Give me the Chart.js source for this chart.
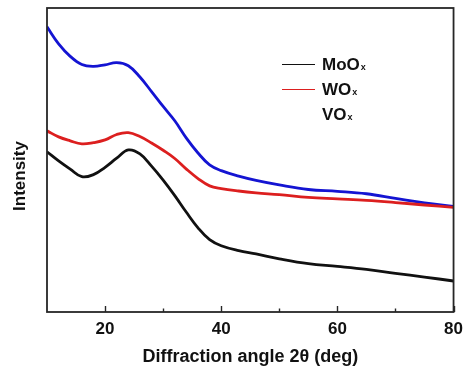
<!DOCTYPE html>
<html>
<head>
<meta charset="utf-8">
<script src="https://cdn.jsdelivr.net/npm/chart.js@4/dist/chart.umd.min.js"></script>
<style>
  html, body { margin: 0; padding: 0; background: #fff; }
  #wrap { width: 470px; height: 372px; }
</style>
</head>
<body>
<div id="wrap"><canvas id="xrd"></canvas></div>
<script>
// 2θ positions (deg) and intensities (a.u.) of the three oxide patterns
const angles = [10, 12, 14, 16, 18, 20, 22, 24, 26, 28, 30, 32, 34, 36, 38, 40, 43, 46, 50, 55, 60, 65, 70, 75, 80];
const moox = [52.7, 49.7, 47.0, 44.5, 45.2, 47.6, 50.6, 53.3, 52.0, 48.0, 43.4, 38.3, 32.8, 27.7, 23.8, 21.8, 20.2, 19.1, 17.5, 15.9, 15.0, 14.0, 12.7, 11.5, 10.2];
const wox = [59.6, 57.6, 56.3, 55.3, 55.7, 56.6, 58.4, 59.0, 57.7, 55.6, 53.2, 50.5, 47.0, 43.9, 41.5, 40.6, 39.8, 39.2, 38.6, 37.7, 37.2, 36.7, 36.0, 35.2, 34.4];
const vox = [93.8, 88.2, 84.1, 81.4, 80.8, 81.3, 82.0, 81.0, 77.3, 72.5, 67.6, 62.9, 57.2, 52.3, 48.4, 46.5, 44.7, 43.3, 41.8, 40.3, 39.7, 38.9, 37.4, 35.9, 34.7];

const seriesNames = ['MoOx', 'WOx', 'VOx'];
const majorTicks = [20, 40, 60, 80];
const minorTicks = [30, 50, 70];

const FONT = "'Liberation Sans', Arial, sans-serif";
const colors = ['#111111', '#dc1f1f', '#1414d2'];
// VOx has no sample line in the key
const keyLines = [true, true, false];

function toPoints(ys) {
  return ys.map((y, i) => ({ x: angles[i], y: y }));
}

// frame, inward ticks, y title and the in-plot key
const decorations = {
  id: 'decorations',
  afterDatasetsDraw(chart) {
    const { ctx, chartArea: a } = chart;
    const xs = chart.scales.x;
    ctx.save();

    ctx.strokeStyle = '#262626';
    ctx.lineWidth = 1.8;
    ctx.strokeRect(a.left, a.top, a.right - a.left, a.bottom - a.top);

    ctx.lineWidth = 1.4;
    majorTicks.forEach(v => {
      const px = Math.round(xs.getPixelForValue(v)) + 0.5;
      ctx.beginPath(); ctx.moveTo(px, a.bottom); ctx.lineTo(px, a.bottom - 6); ctx.stroke();
    });
    minorTicks.forEach(v => {
      const px = Math.round(xs.getPixelForValue(v)) + 0.5;
      ctx.beginPath(); ctx.moveTo(px, a.bottom); ctx.lineTo(px, a.bottom - 3.5); ctx.stroke();
    });

    // rotated y title
    ctx.fillStyle = '#111';
    ctx.font = 'bold 17px ' + FONT;
    ctx.textAlign = 'center';
    ctx.textBaseline = 'middle';
    ctx.translate(20, 176);
    ctx.rotate(-Math.PI / 2);
    ctx.fillText('Intensity', 0, 0);
    ctx.setTransform(1, 0, 0, 1, 0, 0);

    // key
    const lineX0 = a.left + 235, lineX1 = a.left + 268, textX = a.left + 275;
    chart.data.datasets.forEach((ds, i) => {
      const y = 64 + i * 25;
      if (keyLines[i]) {
        ctx.strokeStyle = ds.borderColor;
        ctx.lineWidth = 1;
        ctx.beginPath(); ctx.moveTo(lineX0, y + 0.5); ctx.lineTo(lineX1, y + 0.5); ctx.stroke();
      }
      const base = ds.label.slice(0, -1);
      const sub = ds.label.slice(-1);
      ctx.fillStyle = '#111';
      ctx.textAlign = 'left';
      ctx.textBaseline = 'alphabetic';
      ctx.font = 'bold 17px ' + FONT;
      ctx.fillText(base, textX, y + 6);
      const w = ctx.measureText(base).width;
      ctx.font = 'bold 9px ' + FONT;
      ctx.fillText(sub, textX + w + 1, y + 6);
    });
    ctx.restore();
  }
};

new Chart(document.getElementById('xrd'), {
  type: 'line',
  data: {
    datasets: [moox, wox, vox].map((ys, i) => ({
      label: seriesNames[i],
      data: toPoints(ys),
      borderColor: colors[i],
      borderWidth: 2.8,
      pointRadius: 0,
      fill: false,
      tension: 0.4
    }))
  },
  options: {
    responsive: true,
    maintainAspectRatio: false,
    animation: false,
    layout: { padding: { left: 47, right: 12, top: 8, bottom: 0 } },
    plugins: {
      legend: { display: false },
      tooltip: { enabled: false }
    },
    scales: {
      x: {
        type: 'linear',
        min: 10,
        max: 80,
        afterFit: s => { s.height = 60; },
        afterBuildTicks: s => { s.ticks = majorTicks.map(v => ({ value: v })); },
        grid: { display: false, drawTicks: false },
        border: { display: false },
        ticks: {
          padding: 7,
          color: '#111',
          font: { family: FONT, size: 17, weight: 'bold' },
          maxRotation: 0
        },
        title: {
          display: true,
          text: 'Diffraction angle 2\u03b8 (deg)',
          color: '#111',
          font: { family: FONT, size: 18, weight: 'bold' },
          padding: { top: 0, bottom: 4 }
        }
      },
      y: {
        display: false,
        min: 0,
        max: 100
      }
    }
  },
  plugins: [decorations]
});
</script>
</body>
</html>
